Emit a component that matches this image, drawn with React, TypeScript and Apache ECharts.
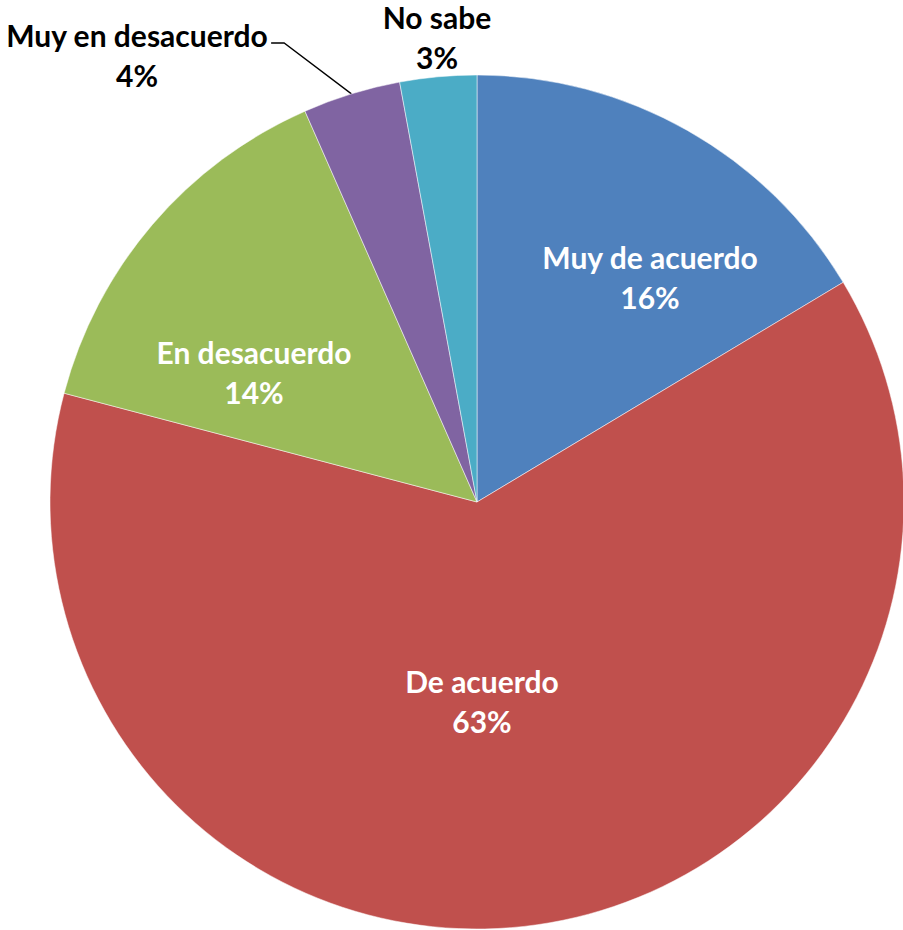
import React, { useEffect, useRef } from "react";
import * as echarts from "echarts";

const categories = ["Muy de acuerdo", "De acuerdo", "En desacuerdo", "Muy en desacuerdo", "No sabe"];
const values = [16.4, 62.7, 14.3, 3.7, 2.9];
const colors = ["#4F81BD", "#C0504D", "#9BBB59", "#8064A2", "#4BACC6"];
const labelCenters = [
  [650, 277],
  [482, 701],
  [254, 372],
  [137, 55],
  [437, 37],
];

export default function App() {
  const ref = useRef<HTMLDivElement>(null);
  useEffect(() => {
    document.body.style.margin = "0";
    const chart = echarts.init(ref.current!, null, { renderer: "svg" });
    const font = "Lato";
    chart.setOption({
      animation: false,
      series: [
        {
          type: "pie",
          center: [477, 502],
          radius: [0, 427],
          startAngle: 90,
          clockwise: true,
          percentPrecision: 0,
          avoidLabelOverlap: false,
          itemStyle: { borderColor: "#ffffff", borderWidth: 0.5 },
          label: {
            formatter: "{b}\n{d}%",
            fontFamily: font,
            fontWeight: "bold",
            fontSize: 30,
            lineHeight: 40,
            color: "#ffffff",
            position: "inside",
          },
          labelLine: { show: false },
          labelLayout: (params: any) => {
            const i = params.dataIndex;
            const c = labelCenters[i];
            const res: any = { x: c[0], y: c[1], align: "center", verticalAlign: "middle" };
            if (i === 3 && params.labelLinePoints) {
              const anchor = params.labelLinePoints[0];
              const right = c[0] + params.labelRect.width / 2;
              const y1 = c[1] - 12;
              res.labelLinePoints = [anchor, [right + 16, y1], [right + 3, y1]];
            }
            return res;
          },
          data: categories.map((name, i) => {
            const item: any = { name, value: values[i], itemStyle: { color: colors[i] } };
            if (i >= 3) {
              item.label = { position: "outside", color: "#000000" };
              item.labelLine = { show: i === 3, lineStyle: { color: "#000000", width: 1.3 }, length: 20, length2: 13 };
            }
            return item;
          }),
        },
      ],
    });
    return () => chart.dispose();
  }, []);
  return <div ref={ref} style={{ width: 903, height: 930 }} />;
}
